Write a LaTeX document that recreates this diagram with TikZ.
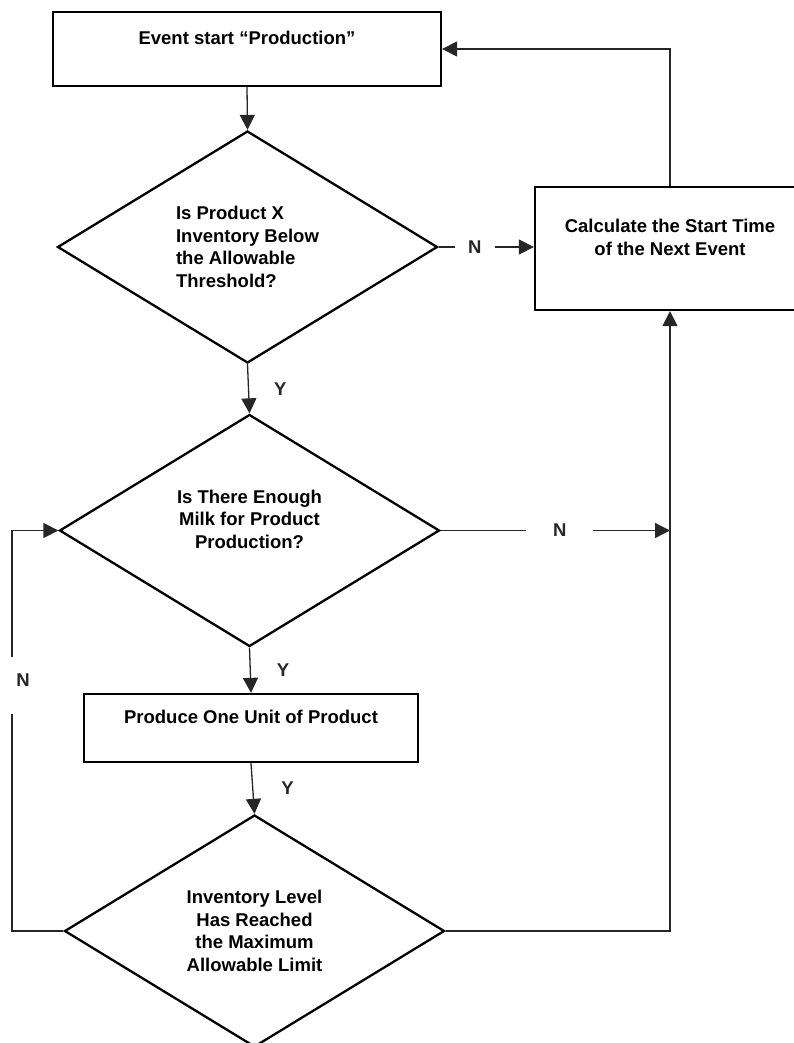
\documentclass[tikz,border=0pt]{standalone}
\usepackage{fontspec}
\setmainfont{Liberation Sans}
\usepackage{tikz}
\usetikzlibrary{shapes.geometric,positioning,calc,arrows.meta}

\begin{document}
\begin{tikzpicture}[x=1pt, y=-1pt,
  every node/.style={font=\fontsize{18.5}{22.5}\selectfont\bfseries},
  box/.style={draw, line width=2.3pt, align=center, inner sep=0pt},
  decision/.style={draw, diamond, aspect=1.64, line width=2.3pt, align=center, inner sep=0pt,
    minimum width=380pt, minimum height=232pt},
  flow/.style={line width=1.3pt, black!85, -{Triangle[length=15pt, width=15pt]}},
  gap/.style={fill=white, inner sep=0pt}]
  \useasboundingbox (0, 0) rectangle (793, 1043);

  \node[box, minimum width=388pt, minimum height=74pt] (start) at (247, 49) {Event start “Production”\\\mbox{}};
  \node[decision, align=left] (stock) at (247.5, 247) {Is Product X\\Inventory Below\\the Allowable\\Threshold?};
  \node[box, minimum width=270pt, minimum height=123pt] (nexttime) at (670, 248.5) {Calculate the Start Time\\of the Next Event\\\mbox{}};
  \node[decision] (milk) at (249.5, 530.5) {Is There Enough\\Milk for Product\\Production?\\\mbox{}};
  \node[box, minimum width=334pt, minimum height=68pt] (produce) at (251, 728) {Produce One Unit of Product\\\mbox{}};
  \node[decision] (maxlevel) at (254.5, 931) {Inventory Level\\Has Reached\\the Maximum\\Allowable Limit};
  \coordinate (back) at (12, 931);

  \draw[flow] (start.south) -- (stock.north);
  \draw[flow] (stock.east) -- node[gap, pos=.38, minimum width=40pt] {N} (stock.east -| nexttime.west);
  \draw[flow] (stock.south) -- node[right=25pt, inner sep=0pt] {Y} (milk.north);
  \draw[flow] (milk.east) -- node[gap, pos=.52, minimum width=67pt] {N} (milk.east -| nexttime.south);
  \draw[flow] (milk.south) -- node[right=26pt, inner sep=0pt] {Y} (produce.north);
  \draw[flow] (produce.south) -- node[right=28pt, inner sep=0pt] {Y} (maxlevel.north);
  \draw[flow] (maxlevel.east) -| (nexttime.south);
  \draw[flow] (nexttime.north) |- (start.east);
  \draw[flow] (maxlevel.west) -- (back) |- node[gap, pos=.307, minimum height=57pt, inner xsep=7pt, text depth=10pt, xshift=11pt] {N} (milk.west);
\end{tikzpicture}
\end{document}
